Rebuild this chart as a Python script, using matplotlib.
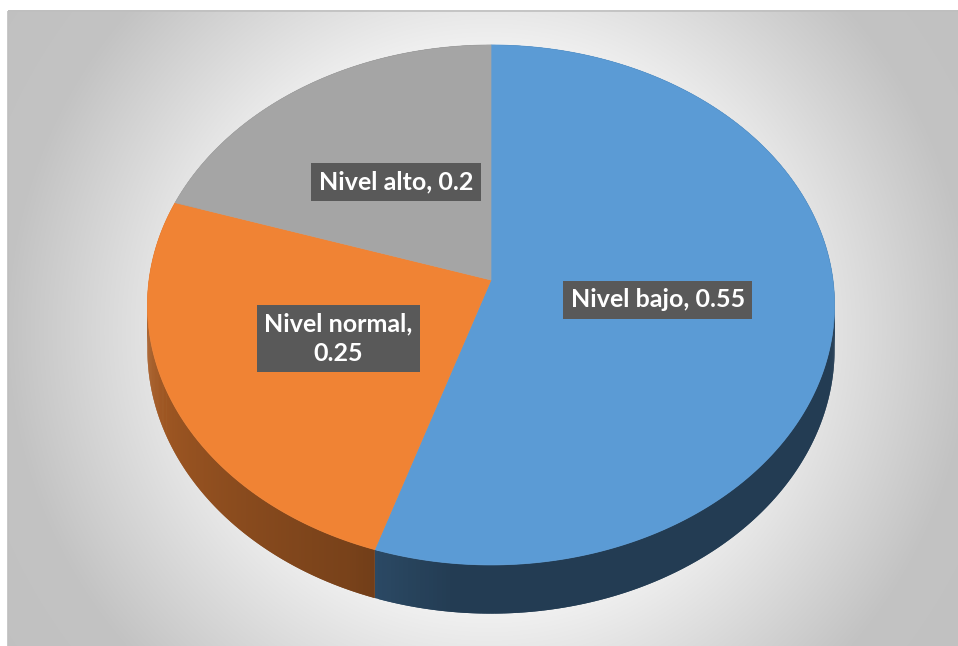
import numpy as np
import matplotlib.pyplot as plt
from matplotlib.collections import PolyCollection
from matplotlib.colors import to_rgb
from matplotlib.patches import Polygon, Rectangle

labels = ['Nivel bajo', 'Nivel normal', 'Nivel alto']
values = [0.55, 0.25, 0.2]
label_texts = ['Nivel bajo, 0.55', 'Nivel normal,\n0.25', 'Nivel alto, 0.2']
colors = ['#5B9BD5', '#F08334', '#A5A5A5']

# 3D disk layout in pixels
CX, CY = 491, 280
RX, RY = 342, 257.6
PERSP = 0.096
DEPTH = 44
LABEL_R = 0.49


def project(theta, r=1.0, drop=0.0):
    X = r * np.cos(theta)
    Y = r * np.sin(theta)
    w = 1 / (1 + PERSP * Y)
    return CX + RX * X * w, CY - RY * Y * w + drop * w


def side_shade(theta):
    phi = np.degrees(theta) % 360
    return np.interp(phi, [0, 160, 180, 248, 264, 360], [0.39, 0.76, 0.74, 0.5, 0.39, 0.39])


fig = plt.figure(figsize=(9.58, 6.46), dpi=100)
ax = fig.add_axes([0, 0, 1, 1])
ax.set_xlim(0, 958)
ax.set_ylim(646, 0)
ax.axis('off')

# radial background gradient
xs = np.arange(8, 958) + 0.5
ys = np.arange(10, 646) + 0.5
gx, gy = np.meshgrid(xs, ys)
dist = np.hypot(gx - 489, gy - 330)
grey = np.interp(dist, [0, 250, 480, 700], [252, 248, 195, 190]) / 255
ax.imshow(np.dstack([grey, grey, grey]), extent=(8, 958, 646, 10), origin='upper',
          interpolation='bilinear', zorder=0)
ax.add_patch(Rectangle((8.5, 10.5), 960, 650, fill=False, ec='#bfbfbf', lw=1.2, zorder=1))

cum = np.concatenate([[0], np.cumsum(values)])
spans = [(np.pi / 2 - 2 * np.pi * cum[i + 1], np.pi / 2 - 2 * np.pi * cum[i]) for i in range(len(values))]

# sides of the disk, overlapping strips so no seams show
for (t0, t1), col in zip(spans, colors):
    th = np.linspace(t0, t1, 300)
    tx, ty = project(th)
    bx, by = project(th, drop=DEPTH)
    quads, fcs = [], []
    base = np.array(to_rgb(col))
    for j in range(len(th) - 1):
        k = min(j + 2, len(th) - 1)
        quads.append([(tx[j], ty[j]), (tx[k], ty[k]), (bx[k], by[k]), (bx[j], by[j])])
        fcs.append(np.clip(base * side_shade(0.5 * (th[j] + th[j + 1])), 0, 1))
    ax.add_collection(PolyCollection(quads, facecolors=fcs, edgecolors='none', linewidths=0, zorder=2))

# top faces
for (t0, t1), col in zip(spans, colors):
    th = np.linspace(t0, t1, 400)
    tx, ty = project(th)
    pts = [(CX, CY)] + list(zip(tx, ty))
    ax.add_patch(Polygon(pts, closed=True, fc=col, ec=col, lw=0.5, zorder=3))

# data labels
for (t0, t1), txt in zip(spans, label_texts):
    lx, ly = project(0.5 * (t0 + t1), r=LABEL_R)
    ax.text(lx, ly, txt, ha='center', va='center', ma='center', color='white',
            fontsize=18, fontweight='bold', family='Lato', linespacing=1.35, zorder=5,
            bbox=dict(boxstyle='square,pad=0.3', fc='#595959', ec='none'))

fig.savefig('out.png', dpi=100)
